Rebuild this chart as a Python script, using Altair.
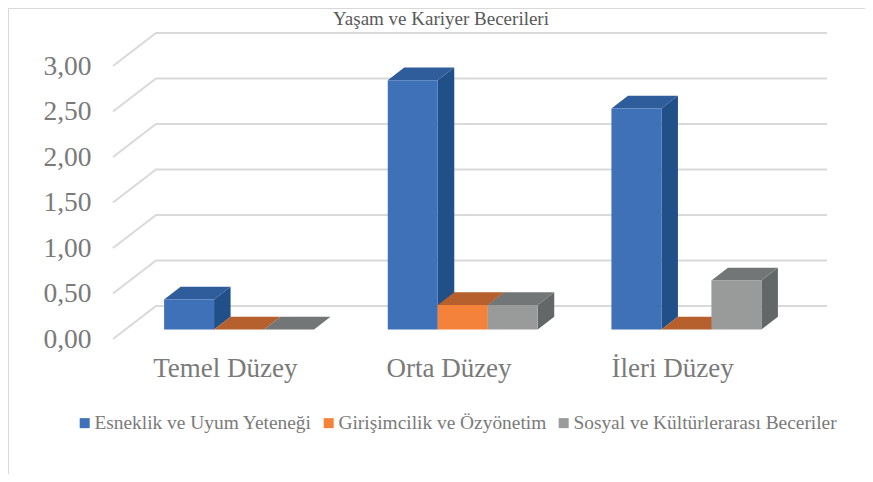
import altair as alt
import pandas as pd

title_text = "Yaşam ve Kariyer Becerileri"
categories = ["Temel Düzey", "Orta Düzey", "İleri Düzey"]
series_names = ["Esneklik ve Uyum Yeteneği", "Girişimcilik ve Özyönetim", "Sosyal ve Kültürlerarası Beceriler"]
esneklik = [0.33, 2.74, 2.43]
girisimcilik = [0.00, 0.27, 0.00]
sosyal = [0.00, 0.27, 0.54]
series_values = [esneklik, girisimcilik, sosyal]
y_ticks = [0.0, 0.5, 1.0, 1.5, 2.0, 2.5, 3.0]
x_ticks = [0.5, 1.5, 2.5]

front_colors = ["#3F71B9", "#F5823A", "#999B9B"]
side_colors = ["#214F88", "#B5602D", "#636767"]
top_colors = ["#2F5C9A", "#B5602D", "#737677"]
text_gray = "#7A7A7A"
grid_gray = "#D9D9D9"
FONT = "Liberation Serif"

# 3-D projection, in data units of the two scales
BACK_DX, BACK_DY = 0.1922, 0.3626
BAR_DX, BAR_DY = 0.0738, 0.14
BASE_DX, BASE_DY = 0.0637, 0.104
BAR_W = 0.2235

labels_expr = "[" + ",".join(f"'{c}'" for c in categories) + "][floor(datum.value)]"
x_scale = alt.Scale(domain=[0, 3], nice=False, zero=False)
y_scale = alt.Scale(domain=[0, 3], nice=False, zero=False)
X = alt.X("x:Q", scale=x_scale, title=None, axis=alt.Axis(
    values=x_ticks, labelExpr=labels_expr, domain=False, ticks=False, grid=False,
    labelFont=FONT, labelFontSize=27, labelColor=text_gray, labelPadding=16,
    labelOverlap=False, labelBound=False, labelFlush=False))
Y = alt.Y("y:Q", scale=y_scale, title=None, axis=alt.Axis(
    values=y_ticks, format=".2f", labelExpr="replace(datum.label, '.', ',')",
    domain=False, ticks=False, grid=False,
    labelFont=FONT, labelFontSize=27.5, labelColor=text_gray, labelPadding=22,
    labelOverlap=False, labelBound=False, labelFlush=False))

grid_rows = []
for v in y_ticks:
    grid_rows += [
        {"x": 0, "y": v, "tick": v, "o": 0},
        {"x": BACK_DX, "y": v + BACK_DY, "tick": v, "o": 1},
        {"x": 3 + BACK_DX, "y": v + BACK_DY, "tick": v, "o": 2},
    ]
grid = alt.Chart(pd.DataFrame(grid_rows)).mark_line(color=grid_gray, strokeWidth=2).encode(
    x=X, y=Y, detail="tick:N", order="o:Q"
)

layers = [grid]
for s, (name, values) in enumerate(zip(series_names, series_values)):
    front_rows, side_rows, top_rows = [], [], []
    for c, v in enumerate(values):
        gap = (1 - 3 * BAR_W) / 2
        x0 = c + BASE_DX + gap + s * BAR_W
        x1 = x0 + BAR_W
        b = BASE_DY
        t = v + BASE_DY
        if v > 0:
            front_rows.append({"x": x0, "x2": x1, "y": b, "y2": t, "series": name})
        side_rows += [
            {"x": x1, "y": b, "y2": t, "k": c},
            {"x": x1 + BAR_DX, "y": b + BAR_DY, "y2": t + BAR_DY, "k": c},
        ]
        top_rows += [
            {"y": t, "x": x0, "x2": x1, "k": c},
            {"y": t + BAR_DY, "x": x0 + BAR_DX, "x2": x1 + BAR_DX, "k": c},
        ]
    side = alt.Chart(pd.DataFrame(side_rows)).mark_area(orient="vertical", color=side_colors[s]).encode(
        x=X, y=Y, y2="y2:Q", detail="k:N"
    )
    top = alt.Chart(pd.DataFrame(top_rows)).mark_area(orient="horizontal", color=top_colors[s]).encode(
        y=Y, x=X, x2="x2:Q", detail="k:N"
    )
    front = alt.Chart(pd.DataFrame(front_rows)).mark_rect().encode(
        x=X, x2="x2:Q", y=Y, y2="y2:Q",
        color=alt.Color("series:N", scale=alt.Scale(domain=series_names, range=front_colors), legend=alt.Legend(
            title=None, orient="none", legendX=-38, legendY=347, direction="horizontal", columns=3,
            symbolType="square", symbolSize=100, symbolStrokeWidth=0, labelFont=FONT, labelFontSize=19.4,
            labelColor=text_gray, labelOffset=0, columnPadding=7, labelLimit=400)),
    )
    layers += [side, top, front]

frame_left = alt.Chart(pd.DataFrame({"a": [0]})).mark_rule(color=grid_gray, strokeWidth=2).encode(
    x=alt.value(-105), y=alt.value(-58), y2=alt.value(408))
frame_top = alt.Chart(pd.DataFrame({"a": [0]})).mark_rule(color=grid_gray, strokeWidth=2).encode(
    x=alt.value(-105), x2=alt.value(752), y=alt.value(-58))
title_mark = alt.Chart(pd.DataFrame({"t": [title_text]})).mark_text(
    font=FONT, fontSize=19, color="#595959", align="center", baseline="alphabetic"
).encode(text="t:N", x=alt.value(328), y=alt.value(-41))
layers = [frame_left, frame_top, title_mark] + layers

chart = alt.layer(*layers).properties(
    width=671, height=273,
    autosize=alt.AutoSizeParams(type="none"),
    padding={"left": 105, "top": 58, "right": 81, "bottom": 135},
    background="white",
).configure_view(stroke=None)

chart.save("out.html", embed_options={"renderer": "svg", "actions": False})
